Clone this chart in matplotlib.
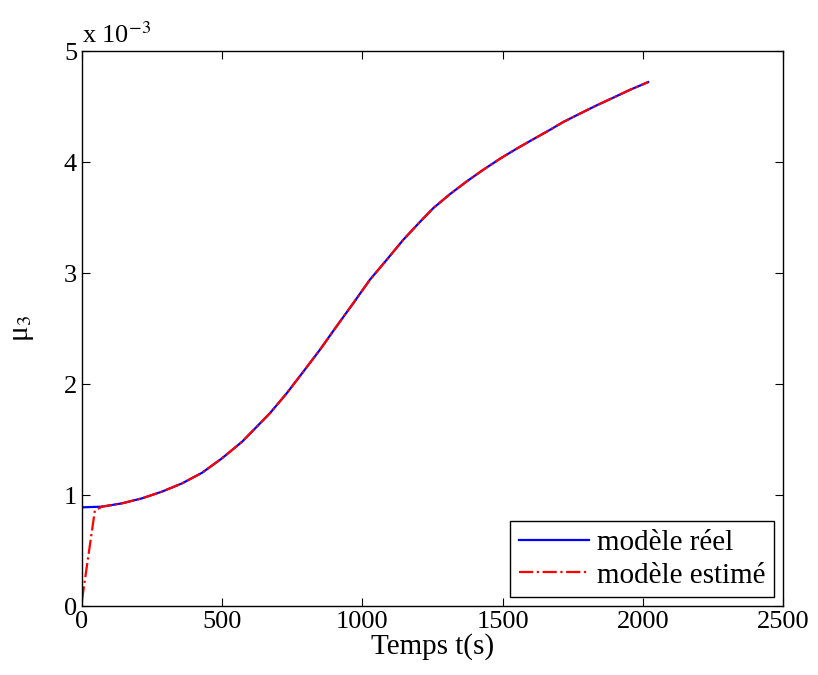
import numpy as np
import matplotlib
matplotlib.use("Agg")
from matplotlib import pyplot as plt
from matplotlib.ticker import FuncFormatter

plt.rcParams['font.family'] = ['Liberation Serif', 'DejaVu Serif']
plt.rcParams['mathtext.fontset'] = 'stix'

# (time in s, mu3 in units of 1e-3)
t_real = [0, 71, 143, 214, 285, 357, 428, 499, 571, 670, 730, 789, 849, 908,
          968, 1027, 1087, 1146, 1205, 1253, 1312, 1372, 1431, 1491, 1550,
          1609, 1669, 1716, 1775, 1835, 1895, 1954, 2019]
mu_real = [0.889, 0.895, 0.925, 0.970, 1.03, 1.105, 1.20, 1.33, 1.48, 1.736,
           1.916, 2.11, 2.31, 2.52, 2.73, 2.94, 3.12, 3.30, 3.46, 3.585, 3.71,
           3.825, 3.93, 4.03, 4.12, 4.205, 4.29, 4.36, 4.435, 4.51, 4.58, 4.65,
           4.72]

# estimated model: starts near zero then joins the real one
t_est = [0, 46] + t_real[1:]
mu_est = [0.05, 0.86] + mu_real[1:]

mu_real = np.array(mu_real) * 1e-3
mu_est = np.array(mu_est) * 1e-3

fig = plt.figure(figsize=(8.18, 6.75), dpi=100)
ax = fig.add_axes([0.1002, 0.1022, 0.8570, 0.8222])

ax.plot(t_real, mu_real, color='blue', lw=1.6, label='modèle réel')
ax.plot(t_est, mu_est, color='red', lw=1.6, ls='-.', label='modèle estimé')

ax.set_xlim(0, 2500)
ax.set_ylim(0, 5e-3)
ax.set_xticks([0, 500, 1000, 1500, 2000, 2500])
ax.set_yticks(np.arange(0, 6) * 1e-3)
ax.yaxis.set_major_formatter(FuncFormatter(lambda v, p: f"{v * 1e3:g}"))
ax.tick_params(direction='in', top=True, right=True, labelsize=19, length=6, width=0.8)
for s in ax.spines.values():
    s.set_linewidth(1.0)

ax.text(0.0, 1.006, "x 10$^{-3}$", transform=ax.transAxes, fontsize=19,
        ha='left', va='bottom')

ax.set_xlabel("Temps t(s)", fontsize=21, labelpad=0)
ax.set_ylabel("μ$_3$", fontsize=21, labelpad=20)

leg = ax.legend(loc='lower right', fontsize=21, fancybox=False, framealpha=1,
                edgecolor='black', borderaxespad=0.3, handlelength=2.4,
                handletextpad=0.28, borderpad=0.3, labelspacing=0.2)
leg.get_frame().set_linewidth(1.0)

fig.savefig("out.png", dpi=100)
